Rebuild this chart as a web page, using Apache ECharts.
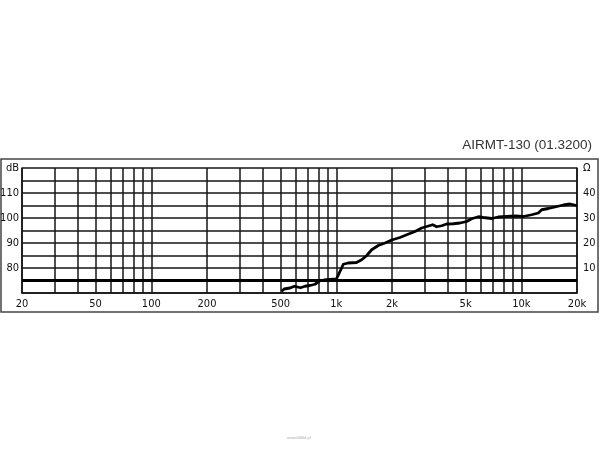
<!DOCTYPE html>
<html><head><meta charset="utf-8">
<script src="https://cdn.jsdelivr.net/npm/echarts@6/dist/echarts.min.js"></script>
<style>html,body{margin:0;padding:0;background:#fff}#c{width:600px;height:450px}</style>
</head><body><div id="c"></div>
<script>
// Frequency response (Hz, dB)
const respFreq = [507, 522, 562, 594, 640, 677, 721, 767, 811, 858, 925, 1002, 1091, 1157, 1286, 1372, 1460, 1553, 1687, 1833, 1993, 2209, 2402, 2663, 2894, 3080, 3320, 3488, 3712, 3951, 4290, 4664, 5068, 5393, 5856, 6230, 6917, 7508, 8337, 9246, 10250, 11380, 12360, 12890, 14000, 15210, 16870, 18330, 19930];
const respDb   = [70.7, 71.6, 72.0, 72.7, 72.1, 72.7, 73.0, 73.5, 74.8, 75.2, 75.4, 75.6, 81.5, 82.0, 82.2, 83.3, 85.0, 87.3, 89.0, 90.0, 91.2, 92.2, 93.3, 94.6, 96.0, 96.6, 97.3, 96.5, 96.9, 97.6, 97.7, 98.0, 98.6, 99.7, 100.5, 100.2, 99.8, 100.4, 100.6, 100.8, 100.6, 101.3, 102.0, 103.3, 103.8, 104.4, 105.2, 105.6, 105.0];
// Flat thick line
const flatFreq = [20, 20000];
const flatDb = [75, 75];
// Axis grid / labels
const xGridFreqs = [20,30,40,50,60,70,80,90,100,200,300,400,500,600,700,800,900,1000,2000,3000,4000,5000,6000,7000,8000,9000,10000,20000];
const xTickLabels = [20,50,100,200,500,1000,2000,5000,10000,20000];
const yLabelValues = [80, 90, 100, 110, 120];
const leftLabelTexts = ['80', '90', '100', '110', 'dB'];
const rightLabelTexts = ['10', '20', '30', '40', 'Ω'];
const chartTitle = 'AIRMT-130 (01.3200)';
const watermark = 'www.bl604.pl';

const FONT = "'DejaVu Sans Condensed','DejaVu Sans',sans-serif";
const GRID_COLOR = '#151515';
const chart = echarts.init(document.getElementById('c'), null, {renderer: 'canvas'});
const fmtX = v => v >= 1000 ? (Math.round(v / 100) / 10) + 'k' : String(Math.round(v));
chart.setOption({
  animation: false,
  backgroundColor: '#fff',
  title: {
    text: chartTitle, right: 3, top: 133,
    textStyle: {fontFamily: "'Liberation Sans',Arial,sans-serif", fontSize: 13.5, fontWeight: 'normal', color: '#333'}
  },
  graphic: [
    {type: 'rect', shape: {x: 1, y: 159, width: 597, height: 153}, style: {fill: null, stroke: '#444', lineWidth: 1.5}, z: -1},
    {type: 'text', left: 287, top: 436, style: {text: watermark, font: '4px sans-serif', fill: '#aaa'}}
  ],
  grid: {left: 22, right: 23, top: 168, bottom: 157, containLabel: false, outerBoundsMode: 'none'},
  xAxis: {
    type: 'log', logBase: 10, min: 20, max: 20000,
    axisLine: {show: true, lineStyle: {color: GRID_COLOR, width: 1.5}},
    axisTick: {show: false, customValues: xGridFreqs},
    axisLabel: {customValues: xTickLabels, formatter: fmtX, fontFamily: FONT, fontSize: 11, color: '#111', margin: 6},
    splitLine: {show: true, lineStyle: {color: GRID_COLOR, width: 1.5}},
    minorSplitLine: {show: false}
  },
  yAxis: [
    {
      type: 'value', min: 70, max: 120, interval: 5, position: 'left',
      axisLine: {show: true, lineStyle: {color: GRID_COLOR, width: 1.5}},
      axisTick: {show: false},
      axisLabel: {fontFamily: FONT, fontSize: 11, color: '#111', margin: 3,
        formatter: v => { const i = yLabelValues.indexOf(Math.round(v)); return i >= 0 ? leftLabelTexts[i] : ''; }},
      splitLine: {show: true, lineStyle: {color: GRID_COLOR, width: 1.5}}
    },
    {
      type: 'value', min: 70, max: 120, interval: 5, position: 'right',
      axisLine: {show: true, lineStyle: {color: GRID_COLOR, width: 1.5}},
      axisTick: {show: false},
      axisLabel: {fontFamily: FONT, fontSize: 11, color: '#111', margin: 6,
        formatter: v => { const i = yLabelValues.indexOf(Math.round(v)); return i >= 0 ? rightLabelTexts[i] : ''; }},
      splitLine: {show: false}
    }
  ],
  series: [
    {type: 'line', yAxisIndex: 0, showSymbol: false, silent: true,
     data: flatFreq.map((f, i) => [f, flatDb[i]]),
     lineStyle: {color: '#000', width: 3}},
    {type: 'line', yAxisIndex: 0, showSymbol: false, silent: true,
     data: respFreq.map((f, i) => [f, respDb[i]]),
     lineStyle: {color: '#000', width: 2.8, join: 'round'}}
  ]
});
</script></body></html>
